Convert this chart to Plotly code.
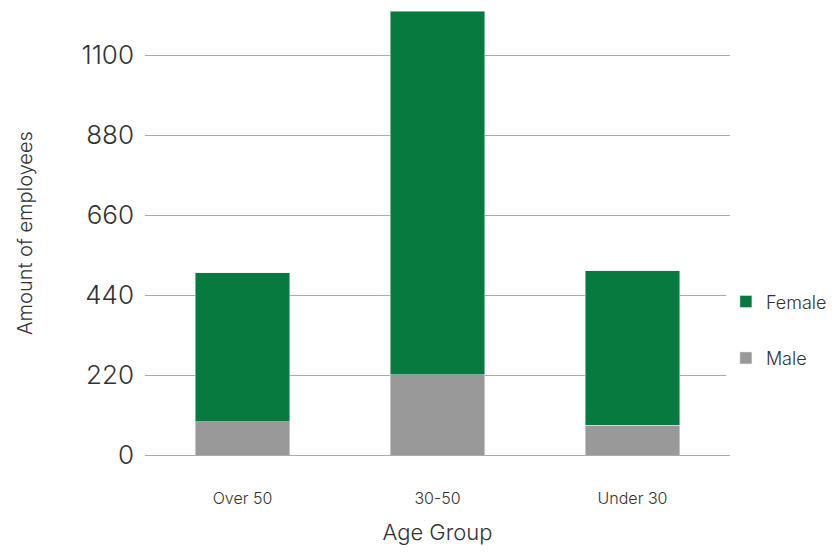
import plotly.graph_objects as go

categories = ["Over 50", "30-50", "Under 30"]
male = [92, 221, 82]
female = [410, 1001, 425]
y_ticks = [0, 220, 440, 660, 880, 1100]

FONT = "Inter"
fig = go.Figure()
fig.add_trace(go.Bar(name="Male", x=categories, y=male, marker_color="#999999",
                     legendgroup="m", legendrank=2))
fig.add_trace(go.Bar(name="Female", x=categories, y=female, marker_color="#077A3F",
                     legendgroup="f", legendrank=1))

fig.update_layout(
    barmode="stack",
    bargap=0.515,
    width=821, height=537,
    margin=dict(l=137, r=99, t=3, b=90, autoexpand=False),
    plot_bgcolor="white", paper_bgcolor="white",
    font=dict(family=FONT, color="#333333", weight=300),
    legend=dict(traceorder="grouped", tracegroupgap=30,
                x=0.993, xanchor="left", y=0.282, yanchor="middle",
                font=dict(size=18, family=FONT, color="#333333", weight=300),
                itemwidth=30),
    xaxis=dict(title=dict(text="Age Group", font=dict(size=22, family=FONT, weight=300), standoff=40),
               tickfont=dict(size=16, family=FONT, weight=300), showline=False, ticks="",
               ticklabelstandoff=32, automargin=True),
    yaxis=dict(title=dict(text="Amount of employees", font=dict(size=20, family=FONT, weight=300), standoff=43),
               range=[0, 1222], tickvals=y_ticks,
               tickfont=dict(size=26, family=FONT, weight=300),
               showgrid=True, gridcolor="#aaaaaa", gridwidth=1,
               zeroline=True, zerolinecolor="#aaaaaa", zerolinewidth=1,
               ticklabelstandoff=10, automargin=True),
)
fig.write_html("out.html")
